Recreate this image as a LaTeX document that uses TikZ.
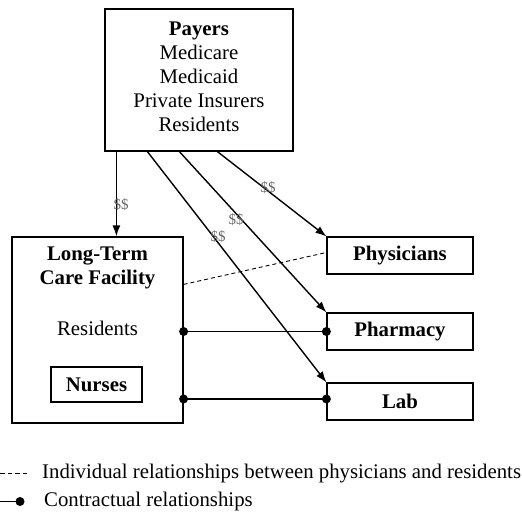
\documentclass[tikz,border=0pt]{standalone}
\usepackage{fontspec}
\setmainfont{Liberation Serif}
\usetikzlibrary{arrows.meta,calc}
\begin{document}
\begin{tikzpicture}[x=1pt,y=-1pt,
  box/.style={draw,line width=1.2pt,rectangle,inner sep=0pt},
  txt/.style={font=\fontsize{20.8}{24}\selectfont,inner sep=0pt,align=center},
  money/.style={draw,line width=1.4pt,-{Latex[length=11pt,width=8pt]}},
  dol/.style={font=\fontsize{15}{15}\selectfont,text=black!60,inner sep=0pt},
  contract/.style={line width=1.4pt},
  dotc/.style={circle,fill=black,inner sep=0pt,minimum size=9pt},
  rel/.style={line width=0.9pt,dash pattern=on 4pt off 3pt}]
\useasboundingbox (0,0) rectangle (522,512);
% boxes
\node[box,minimum width=188pt,minimum height=142pt] (payers) at (199,80) {};
\node[txt] (payerstxt) at (199,77) {\textbf{Payers}\\Medicare\\Medicaid\\Private Insurers\\Residents};
\node[box,minimum width=171pt,minimum height=186pt] (ltc) at (97.5,330) {};
\node[txt] (ltctitle) at (97.5,268) {\textbf{Long-Term}\\\textbf{Care Facility}};
\node[txt] (ltcres) at (97.5,328) {Residents};
\node[box,minimum width=91pt,minimum height=35pt] (nurses) at (96.5,384.5) {};
\node[txt] (nursestxt) at (96.5,384.5) {\textbf{Nurses}};
\node[box,minimum width=146pt,minimum height=37pt] (phys) at (400,255.5) {};
\node[txt] (physt) at (400,255.5) {\textbf{Physicians}};
\node[box,minimum width=146pt,minimum height=37pt] (pharm) at (400,331.5) {};
\node[txt] (pharmt) at (400,331.5) {\textbf{Pharmacy}};
\node[box,minimum width=146pt,minimum height=37pt] (lab) at (400,401.5) {};
\node[txt] (labt) at (400,401.5) {\textbf{Lab}};
% money flows
\coordinate (s1) at ($(payers.south west)+(12,0)$);
\coordinate (s2) at ($(payers.south west)+(43,0)$);
\coordinate (s3) at ($(payers.south west)+(75,0)$);
\coordinate (s4) at ($(payers.south west)+(113,0)$);
\draw[money] (s1) -- (s1 |- ltc.north);
\draw[money] (s2) -- (lab.north west);
\draw[money] (s3) -- (pharm.north west);
\draw[money] (s4) -- (phys.north west);
\node[dol] (d1) at (121,205) {\$\$};
\node[dol] (d2) at (218,237) {\$\$};
\node[dol] (d3) at (236,220) {\$\$};
\node[dol] (d4) at (268,188) {\$\$};
% individual relationship
\draw[rel] ($(ltc.north east)+(0,48)$) -- ($(phys.west)+(0,-3)$);
% contractual relationships
\coordinate (c1a) at (ltc.east |- pharm.west);
\coordinate (c2a) at ($(ltc.east |- lab.west)+(0,-2.5)$);
\coordinate (c2b) at ($(lab.west)+(0,-2.5)$);
\draw[contract] (c1a) -- (pharm.west);
\node[dotc] (c1ad) at (c1a) {};
\node[dotc] (c1bd) at (pharm.west) {};
\draw[contract] (c2a) -- (c2b);
\node[dotc] (c2ad) at (c2a) {};
\node[dotc] (c2bd) at (c2b) {};
% legend
\coordinate (l1a) at (0,473.5);
\coordinate (l1b) at (27,473.5);
\draw[line width=0.9pt,dash pattern=on 4.5pt off 3pt] (l1a) -- (l1b);
\node[txt,anchor=west] (l1t) at (42,473.5) {Individual relationships between physicians and residents};
\coordinate (l2a) at (0,501.5);
\coordinate (l2b) at (20,501.5);
\draw[contract] (l2a) -- (l2b);
\node[dotc] (l2d) at (l2b) {};
\node[txt,anchor=west] (l2t) at (44,501.5) {Contractual relationships};
\end{tikzpicture}
\end{document}
